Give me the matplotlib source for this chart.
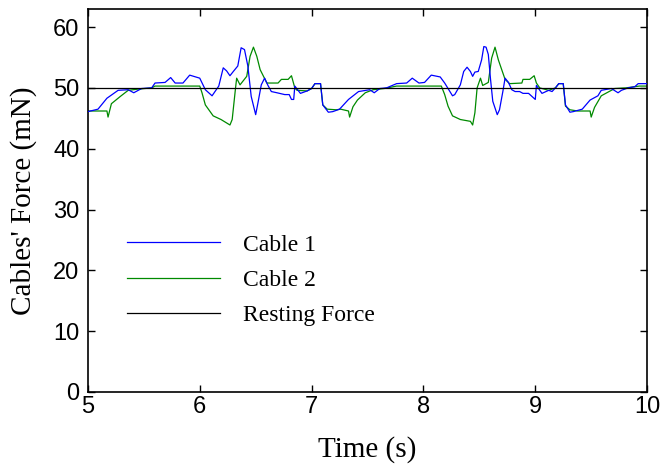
import numpy as np
import matplotlib
matplotlib.use('Agg')
import matplotlib.pyplot as plt

# Cable 1 (blue) - time, force
t1 = [5.00, 5.09, 5.17, 5.27, 5.36, 5.41, 5.48, 5.57, 5.60, 5.69, 5.74, 5.78, 5.85, 5.91,
      6.00, 6.05, 6.11, 6.17, 6.21, 6.24, 6.27, 6.30, 6.34, 6.37, 6.40, 6.43, 6.46, 6.50,
      6.52, 6.55, 6.58, 6.61, 6.64, 6.69, 6.76, 6.80, 6.82, 6.84, 6.85, 6.90, 6.96, 7.00,
      7.03, 7.08, 7.10, 7.15, 7.19, 7.25, 7.33, 7.42, 7.52, 7.56, 7.61, 7.67, 7.76, 7.85,
      7.90, 7.96, 8.01, 8.07, 8.15, 8.19, 8.22, 8.26, 8.28, 8.33, 8.36, 8.39, 8.42, 8.44,
      8.46, 8.49, 8.52, 8.54, 8.56, 8.58, 8.60, 8.62, 8.66, 8.68, 8.71, 8.73, 8.76, 8.79,
      8.82, 8.86, 8.89, 8.94, 9.00, 9.01, 9.06, 9.12, 9.15, 9.18, 9.21, 9.25, 9.27, 9.31,
      9.34, 9.42, 9.49, 9.56, 9.59, 9.68, 9.74, 9.77, 9.83, 9.89, 9.92, 10.00]
f1 = [46.1, 46.5, 48.3, 49.6, 49.7, 49.2, 49.9, 50.0, 50.8, 50.9, 51.7, 50.8, 50.8, 52.1,
      51.6, 49.7, 48.7, 50.3, 53.3, 52.8, 52.0, 52.7, 53.6, 56.6, 56.3, 53.6, 48.6, 45.6,
      47.5, 50.5, 51.6, 50.4, 49.4, 49.2, 48.9, 48.9, 48.1, 48.1, 50.3, 49.1, 49.5, 49.9,
      50.7, 50.7, 47.2, 46.0, 46.1, 46.5, 48.1, 49.4, 49.7, 49.2, 49.9, 50.0, 50.7, 50.8,
      51.6, 50.8, 50.9, 52.1, 51.8, 50.8, 49.9, 48.7, 48.9, 50.5, 52.7, 53.4, 52.7, 51.9,
      52.6, 52.7, 54.6, 56.8, 56.7, 55.5, 51.4, 47.8, 45.6, 46.4, 49.4, 51.6, 50.9, 49.7,
      49.4, 49.4, 49.1, 49.1, 48.1, 50.4, 49.1, 49.6, 49.4, 50.0, 50.7, 50.7, 47.2, 46.0,
      46.1, 46.5, 48.0, 48.7, 49.6, 49.9, 49.2, 49.6, 50.0, 50.2, 50.7, 50.7]

# Cable 2 (green) - time, force
t2 = [5.00, 5.17, 5.18, 5.21, 5.29, 5.36, 5.45, 5.57, 5.60, 6.00, 6.02, 6.05, 6.12, 6.19,
      6.27, 6.29, 6.32, 6.33, 6.36, 6.42, 6.45, 6.48, 6.51, 6.54, 6.60, 6.70, 6.73, 6.79,
      6.82, 6.85, 6.87, 6.96, 7.00, 7.03, 7.08, 7.10, 7.14, 7.22, 7.26, 7.33, 7.34, 7.37,
      7.41, 7.48, 7.55, 7.65, 7.76, 8.16, 8.19, 8.22, 8.26, 8.33, 8.42, 8.44, 8.46, 8.48,
      8.51, 8.53, 8.58, 8.61, 8.64, 8.67, 8.70, 8.73, 8.77, 8.88, 8.89, 8.95, 8.99, 9.01,
      9.04, 9.12, 9.18, 9.21, 9.25, 9.27, 9.31, 9.38, 9.49, 9.50, 9.53, 9.59, 9.66, 9.71,
      9.81, 9.93, 10.00]
f2 = [46.2, 46.2, 45.2, 47.4, 48.6, 49.6, 49.8, 50.0, 50.3, 50.3, 49.2, 47.2, 45.4, 44.8,
      43.9, 44.8, 50.0, 51.6, 50.5, 51.9, 55.2, 56.7, 55.2, 53.0, 50.8, 50.8, 51.4, 51.4,
      52.0, 50.0, 49.6, 49.5, 49.9, 50.7, 50.7, 47.2, 46.5, 46.4, 46.5, 46.2, 45.2, 46.9,
      48.0, 49.2, 49.7, 49.9, 50.3, 50.3, 48.9, 47.0, 45.4, 44.8, 44.5, 43.9, 45.9, 50.0,
      51.6, 50.4, 50.9, 54.9, 56.7, 54.6, 53.0, 51.4, 50.7, 50.8, 51.4, 51.4, 52.0, 50.8,
      50.0, 49.6, 50.0, 50.7, 50.7, 47.0, 46.4, 46.2, 46.2, 45.2, 46.8, 48.7, 49.4, 49.9,
      50.0, 50.3, 50.3]

rest_t = [5.0, 10.0]
rest_f = [50.0, 50.0]

SANS = 'Liberation Sans'
SERIF = 'Liberation Serif'

fig = plt.figure(figsize=(6.61, 4.66), dpi=100)
ax = fig.add_axes([0.133, 0.159, 0.846, 0.822])

l2, = ax.plot(t2, f2, color='#008a00', lw=0.9, zorder=2)
l1, = ax.plot(t1, f1, color='#0000ff', lw=0.9, zorder=3)
l3, = ax.plot(rest_t, rest_f, color='black', lw=0.9, zorder=4)

ax.set_xlim(5, 10)
ax.set_ylim(0, 63)
ax.set_xticks(range(5, 11))
ax.set_yticks(range(0, 61, 10))
ax.tick_params(direction='in', top=True, right=True, length=5, width=1)
ax.tick_params(axis='x', pad=3)
ax.tick_params(axis='y', pad=6)
for lab in ax.get_xticklabels() + ax.get_yticklabels():
    lab.set_fontfamily(SANS)
    lab.set_fontsize(17)
for s in ax.spines.values():
    s.set_linewidth(1.2)

ax.set_xlabel('Time (s)', fontfamily=SERIF, fontsize=21, labelpad=13)
ax.set_ylabel("Cables' Force (mN)", fontfamily=SERIF, fontsize=21, labelpad=12)

leg = ax.legend([l1, l2, l3], ['Cable 1', 'Cable 2', 'Resting Force'],
                loc='center left', bbox_to_anchor=(0.07, 0.292), frameon=False,
                prop={'family': SERIF, 'size': 17}, handlelength=3.95,
                handletextpad=0.97, labelspacing=0.58, borderpad=0, borderaxespad=0)

fig.savefig('out.png', dpi=100)
